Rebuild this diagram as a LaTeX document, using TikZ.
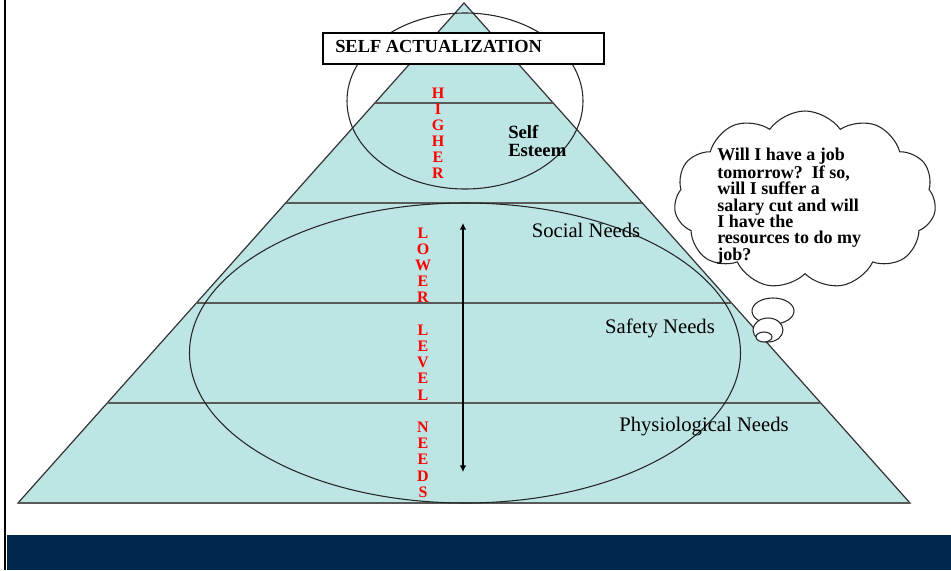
\documentclass[tikz,border=0pt]{standalone}
\usepackage{fontspec}
\setmainfont{Liberation Serif}
\usetikzlibrary{calc,shapes.symbols,shapes.geometric,arrows.meta}
\definecolor{pyr}{HTML}{BDE5E4}
\definecolor{navy}{HTML}{00284F}
\definecolor{lvlred}{HTML}{FF0000}
\tikzset{
  level line/.style={draw=black!65, line width=1.3pt},
  ring/.style={ellipse, draw=black!85, line width=0.8pt, inner sep=0pt},
  need label/.style={font=\fontsize{15.5}{18}\selectfont, inner sep=0pt},
  red stack/.style={text=lvlred, align=center, inner sep=0pt},
  bubble/.style={ellipse, draw=black!85, fill=white, line width=0.8pt, inner sep=0pt},
}
\begin{document}
\begin{tikzpicture}[x=0.75pt, y=-0.75pt]
\useasboundingbox (0,0) rectangle (951,571);
\fill[white] (0,0) rectangle (951,571);
\fill[navy] (7,535) rectangle (951,570);
\draw[black, line width=2pt] (5,0) -- (5,570);

% pyramid
\coordinate (apex) at (464,3);
\coordinate (bl) at (18,503);
\coordinate (br) at (910,503);
\filldraw[fill=pyr, draw=black!80, line width=0.9pt] (apex) -- (bl) -- (br) -- cycle;
\foreach \t in {0.2,0.4,0.6,0.8}
  \draw[level line] ($(apex)!\t!(bl)$) -- ($(apex)!\t!(br)$);
\draw[level line] (bl) -- (br);

% rings
\node (upper) [ring, minimum width=236*0.75pt, minimum height=176*0.75pt] at (465,101) {};
\node (lower) [ring, minimum width=551*0.75pt, minimum height=300*0.75pt] at (465,353) {};

% title box
\node (sabox) [draw=black, fill=white, line width=0.9pt, minimum width=281*0.75pt, minimum height=31*0.75pt, inner sep=0pt] at (463.5,48.5) {};
\node (satext) [anchor=west, inner sep=0pt, font=\bfseries\fontsize{13.8}{16}\selectfont] at (335,46) {SELF ACTUALIZATION};

% labels
\node (esteem) [anchor=west, align=left, inner sep=0pt, font=\bfseries\fontsize{14}{12.8}\selectfont] at (508,141) {Self\\Esteem};
\node (social) [need label] at (586,230) {Social Needs};
\node (safety) [need label] at (660,328) {Safety Needs};
\node (physio) [need label] at (704,427) {Physiological Needs};

\node (higher) [red stack, font=\bfseries\fontsize{12}{12}\selectfont] at (438,133) {H\\I\\G\\H\\E\\R};
\node (lowerlv) [red stack, font=\bfseries\fontsize{12}{12.15}\selectfont] at (423,362.5) {L\\O\\W\\E\\R\\~\\L\\E\\V\\E\\L\\~\\N\\E\\E\\D\\S};

% arrow
\coordinate (atop) at (463,223);
\coordinate (abot) at (463,472);
\draw[{Latex[length=5pt,width=5pt]}-{Latex[length=5pt,width=5pt]}, line width=0.9pt] (atop) -- (abot);

% thought cloud
\node (cloud) [cloud, cloud puffs=11, cloud puff arc=110, cloud ignores aspect, draw=black!85, fill=white, line width=0.8pt, minimum width=262*0.75pt, minimum height=178*0.75pt, inner sep=0pt] at (805,200) {};
\node (b1) [bubble, minimum width=42*0.75pt, minimum height=26*0.75pt] at (773,311) {};
\node (b2) [bubble, minimum width=30*0.75pt, minimum height=24*0.75pt] at (768,330) {};
\node (b3) [bubble, minimum width=16*0.75pt, minimum height=10*0.75pt] at (764,337) {};
\node (thought) [anchor=west, align=left, inner sep=0pt, font=\bfseries\fontsize{13.5}{12.3}\selectfont] at (717,206)
  {Will I have a job\\tomorrow?\ \ If so,\\will I suffer a\\salary cut and will\\I have the\\resources to do my\\job?};
\end{tikzpicture}
\end{document}
